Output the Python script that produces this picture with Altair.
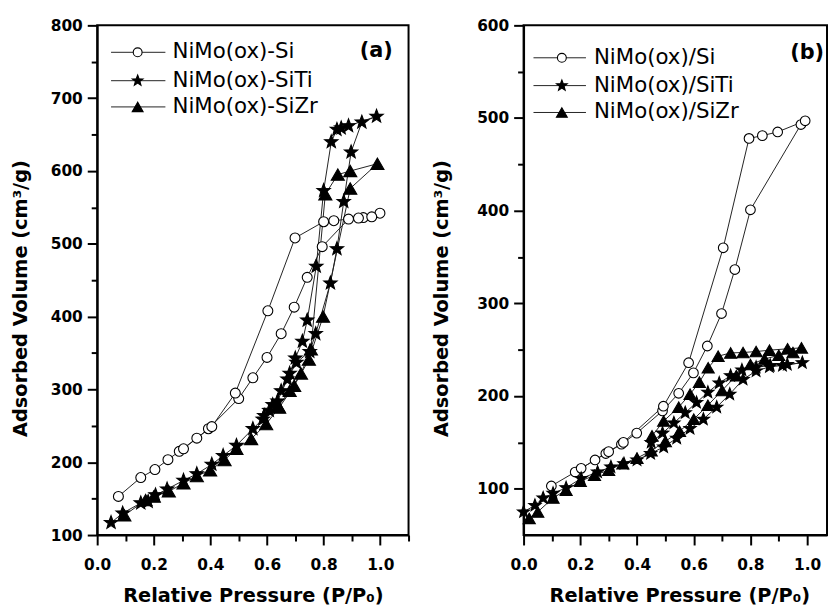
import altair as alt
import pandas as pd

# ---------------- Panel (a) data: NiMo(ox)-Si / -SiTi / -SiZr ----------------
a_names = ["NiMo(ox)-Si", "NiMo(ox)-SiTi", "NiMo(ox)-SiZr"]

a_si_ads_p = [0.075, 0.154, 0.204, 0.25, 0.29, 0.352, 0.393, 0.50, 0.55, 0.60, 0.65, 0.696, 0.742, 0.795, 0.888, 0.94, 0.999]
a_si_ads_v = [153, 179, 190, 203.5, 215, 233, 246, 287.5, 316, 344, 376.5, 413, 454, 496, 534, 536, 542]
a_si_des_p = [0.97, 0.923, 0.836, 0.80, 0.699, 0.603, 0.488, 0.405, 0.305]
a_si_des_v = [537, 535.4, 531.7, 530.3, 508, 408, 295, 249, 218.5]

a_ti_ads_p = [0.049, 0.09, 0.154, 0.18, 0.206, 0.247, 0.305, 0.352, 0.405, 0.445, 0.492, 0.55, 0.585, 0.608, 0.637, 0.672, 0.704, 0.751, 0.772, 0.824, 0.847, 0.871, 0.897, 0.935, 0.987]
a_ti_ads_v = [117, 130, 144, 146, 155, 163, 175, 184, 197, 209, 223, 246, 259, 271, 284, 314, 337, 352, 376.5, 446, 493, 558, 626, 667, 675]
a_ti_des_p = [0.888, 0.862, 0.847, 0.827, 0.80, 0.774, 0.742, 0.725, 0.70, 0.68, 0.65, 0.62, 0.59]
a_ti_des_v = [662, 659, 657, 640, 573, 469, 395, 366, 343, 322, 298, 279, 264]

a_zr_ads_p = [0.096, 0.171, 0.20, 0.253, 0.305, 0.352, 0.399, 0.45, 0.492, 0.544, 0.597, 0.643, 0.696, 0.748, 0.798, 0.894, 0.99]
a_zr_ads_v = [127, 148, 153, 160, 171, 181, 189, 203, 218.5, 232, 252.5, 275, 305, 341, 400, 576, 610]
a_zr_des_p = [0.894, 0.85, 0.806, 0.755, 0.72, 0.68, 0.64]
a_zr_des_v = [600, 595, 568, 355, 322, 298, 277]

# ---------------- Panel (b) data: NiMo(ox)/Si / /SiTi / /SiZr ----------------
b_names = ["NiMo(ox)/Si", "NiMo(ox)/SiTi", "NiMo(ox)/SiZr"]

b_si_ads_p = [0.098, 0.182, 0.252, 0.29, 0.345, 0.399, 0.49, 0.547, 0.599, 0.648, 0.698, 0.745, 0.80, 0.978, 0.993]
b_si_ads_v = [103, 118, 131, 138, 148, 160, 184, 203, 225, 254, 289, 336.5, 401, 493, 497]
b_si_des_p = [0.896, 0.842, 0.795, 0.704, 0.582, 0.493, 0.352, 0.30, 0.203]
b_si_des_v = [485, 481, 478, 360, 236, 189, 150, 140, 122]

b_ti_ads_p = [0.0, 0.04, 0.069, 0.104, 0.15, 0.203, 0.261, 0.308, 0.354, 0.40, 0.448, 0.494, 0.54, 0.587, 0.634, 0.681, 0.727, 0.774, 0.82, 0.867, 0.913, 0.983]
b_ti_ads_v = [75, 82, 90, 95, 101, 111, 118, 123.5, 127, 131, 138, 145, 154.5, 165, 175, 188, 202, 218, 227, 231.5, 233, 236]
b_ti_des_p = [0.93, 0.87, 0.82, 0.77, 0.73, 0.69, 0.65, 0.61, 0.57, 0.53, 0.49, 0.45]
b_ti_des_v = [234, 233, 231, 228, 222, 214, 204, 193, 182, 171, 160, 150]

b_zr_ads_p = [0.02, 0.05, 0.104, 0.15, 0.20, 0.25, 0.30, 0.35, 0.40, 0.45, 0.50, 0.55, 0.60, 0.65, 0.70, 0.75, 0.80, 0.85, 0.90, 0.95, 0.98]
b_zr_ads_v = [68, 75, 90, 98.5, 108, 114.5, 120, 127, 133, 141, 151, 162, 175, 190, 206, 222, 234, 240, 244, 247, 252]
b_zr_des_p = [0.931, 0.867, 0.82, 0.774, 0.73, 0.686, 0.651, 0.62, 0.587, 0.547, 0.494, 0.453]
b_zr_des_v = [251, 249.5, 248, 247, 246.5, 243, 230.5, 215, 202, 188, 173, 157]

# ---------------- ticks ----------------
a_x_ticks = [0.0, 0.1, 0.2, 0.3, 0.4, 0.5, 0.6, 0.7, 0.8, 0.9, 1.0, 1.1]
b_x_ticks = [0.0, 0.1, 0.2, 0.3, 0.4, 0.5, 0.6, 0.7, 0.8, 0.9, 1.0]
a_y_ticks = [100, 150, 200, 250, 300, 350, 400, 450, 500, 550, 600, 650, 700, 750, 800]
b_y_ticks = [100, 150, 200, 250, 300, 350, 400, 450, 500, 550, 600]

FONT = "DejaVu Sans"
STAR = ("M0,-1L0.247,-0.34L0.951,-0.309L0.399,0.13L0.588,0.809L0,0.42"
        "L-0.588,0.809L-0.399,0.13L-0.951,-0.309L-0.247,-0.34Z")
SHAPES = ["circle", STAR, "triangle-up"]
FILLS = ["white", "black", "black"]


def make_df(series):
    rows = []
    for name, ads_p, ads_v, des_p, des_v in series:
        ps = ads_p + des_p
        vs = ads_v + des_v
        for i, (p, v) in enumerate(zip(ps, vs)):
            rows.append({"series": name, "P": p, "V": v, "idx": i})
    return pd.DataFrame(rows)


def panel(series, names, xdom, ydom, xvals, yvals, width, height,
          leg_v, leg_p, tag, tag_pv, title_pad, title_y, xtitle_x,
          msizes, lsizes):
    df = make_df(series)
    x = alt.X(
        "P:Q",
        scale=alt.Scale(domain=xdom, nice=False, zero=False),
        title="Relative Pressure (P/P\u2080)",
        axis=alt.Axis(
            values=xvals,
            labelExpr="round(datum.value*10) % 2 == 0 ? format(datum.value, '.1f') : ''",
            tickSize={"condition": {"test": "round(datum.value*10) % 2 == 0", "value": 10}, "value": 6},
            grid=False, labelOverlap=False, labelFlush=False,
            domainColor="black", domainWidth=2, tickColor="black", tickWidth=2,
            labelFont=FONT, labelFontWeight="bold", labelFontSize=15.5, labelColor="black",
            labelPadding=13,
            titleFont=FONT, titleFontWeight="bold", titleFontSize=19.5, titleColor="black",
            titlePadding=14, titleX=xtitle_x,
        ),
    )
    y = alt.Y(
        "V:Q",
        scale=alt.Scale(domain=ydom, nice=False, zero=False),
        title="Adsorbed Volume (cm\u00b3/g)",
        axis=alt.Axis(
            values=yvals,
            labelExpr="datum.value % 100 == 0 ? format(datum.value, 'd') : ''",
            tickSize={"condition": {"test": "datum.value % 100 == 0", "value": 10}, "value": 6},
            grid=False, labelOverlap=False, labelFlush=False,
            domainColor="black", domainWidth=2, tickColor="black", tickWidth=2,
            labelFont=FONT, labelFontWeight="bold", labelFontSize=15.5, labelColor="black",
            labelPadding=5,
            titleFont=FONT, titleFontWeight="bold", titleFontSize=19.5, titleColor="black",
            titlePadding=title_pad, titleY=title_y,
        ),
    )
    layers = []
    layers.append(
        alt.Chart(df).mark_line(color="#222222", strokeWidth=1).encode(
            x=x, y=y, detail="series:N", order="idx:Q"
        )
    )
    for i, name in enumerate(names):
        sub = df[df["series"] == name]
        layers.append(
            alt.Chart(sub).mark_point(
                shape=SHAPES[i], size=msizes[i], filled=True, fill=FILLS[i],
                stroke="black", strokeWidth=1.1, opacity=1
            ).encode(x=x, y=y)
        )
    # legend (drawn in data coordinates)
    p0, p1, pm, pt = leg_p
    leg_line = pd.DataFrame({"P": [p0] * 3, "P2": [p1] * 3, "V": leg_v})
    layers.append(
        alt.Chart(leg_line).mark_rule(color="#222222", strokeWidth=1).encode(
            x=x, x2="P2:Q", y=y
        )
    )
    for i, name in enumerate(names):
        layers.append(
            alt.Chart(pd.DataFrame({"P": [pm], "V": [leg_v[i]]})).mark_point(
                shape=SHAPES[i], size=lsizes[i], filled=True, fill=FILLS[i],
                stroke="black", strokeWidth=1.1, opacity=1
            ).encode(x=x, y=y)
        )
    leg_text = pd.DataFrame({"P": [pt] * 3, "V": leg_v, "label": names})
    layers.append(
        alt.Chart(leg_text).mark_text(
            align="left", baseline="middle", font=FONT, fontSize=21.5, color="black"
        ).encode(x=x, y=y, text="label:N")
    )
    tag_df = pd.DataFrame({"P": [tag_pv[0]], "V": [tag_pv[1]], "t": [tag]})
    layers.append(
        alt.Chart(tag_df).mark_text(
            align="center", baseline="middle", font=FONT, fontSize=21,
            fontWeight="bold", color="black"
        ).encode(x=x, y=y, text="t:N")
    )
    return alt.layer(*layers).properties(width=width, height=height)


chart_a = panel(
    [
        (a_names[0], a_si_ads_p, a_si_ads_v, a_si_des_p, a_si_des_v),
        (a_names[1], a_ti_ads_p, a_ti_ads_v, a_ti_des_p, a_ti_des_v),
        (a_names[2], a_zr_ads_p, a_zr_ads_v, a_zr_des_p, a_zr_des_v),
    ],
    a_names, [0, 1.1], [100, 800], a_x_ticks, a_y_ticks, 314, 514,
    leg_v=[763, 724, 688], leg_p=(0.049, 0.241, 0.143, 0.266),
    tag="(a)", tag_pv=(0.986, 765), title_pad=20, title_y=275, xtitle_x=157,
    msizes=[100, 200, 175], lsizes=[80, 130, 120],
)

chart_b = panel(
    [
        (b_names[0], b_si_ads_p, b_si_ads_v, b_si_des_p, b_si_des_v),
        (b_names[1], b_ti_ads_p, b_ti_ads_v, b_ti_des_p, b_ti_des_v),
        (b_names[2], b_zr_ads_p, b_zr_ads_v, b_zr_des_p, b_zr_des_v),
    ],
    b_names, [0, 1.07], [50, 600], b_x_ticks, b_y_ticks, 306, 514,
    leg_v=[565, 535, 506], leg_p=(0.035, 0.22, 0.135, 0.248),
    tag="(b)", tag_pv=(1.0, 570), title_pad=25, title_y=275, xtitle_x=157,
    msizes=[95, 170, 150], lsizes=[80, 130, 120],
)

chart = (
    alt.hconcat(chart_a, chart_b, spacing=20)
    .properties(padding={"left": 9, "top": 15, "right": 0, "bottom": 0}, background="white")
    .configure_view(stroke="black", strokeWidth=2)
)

chart.save("out.html", embed_options={"renderer": "svg", "actions": False})
